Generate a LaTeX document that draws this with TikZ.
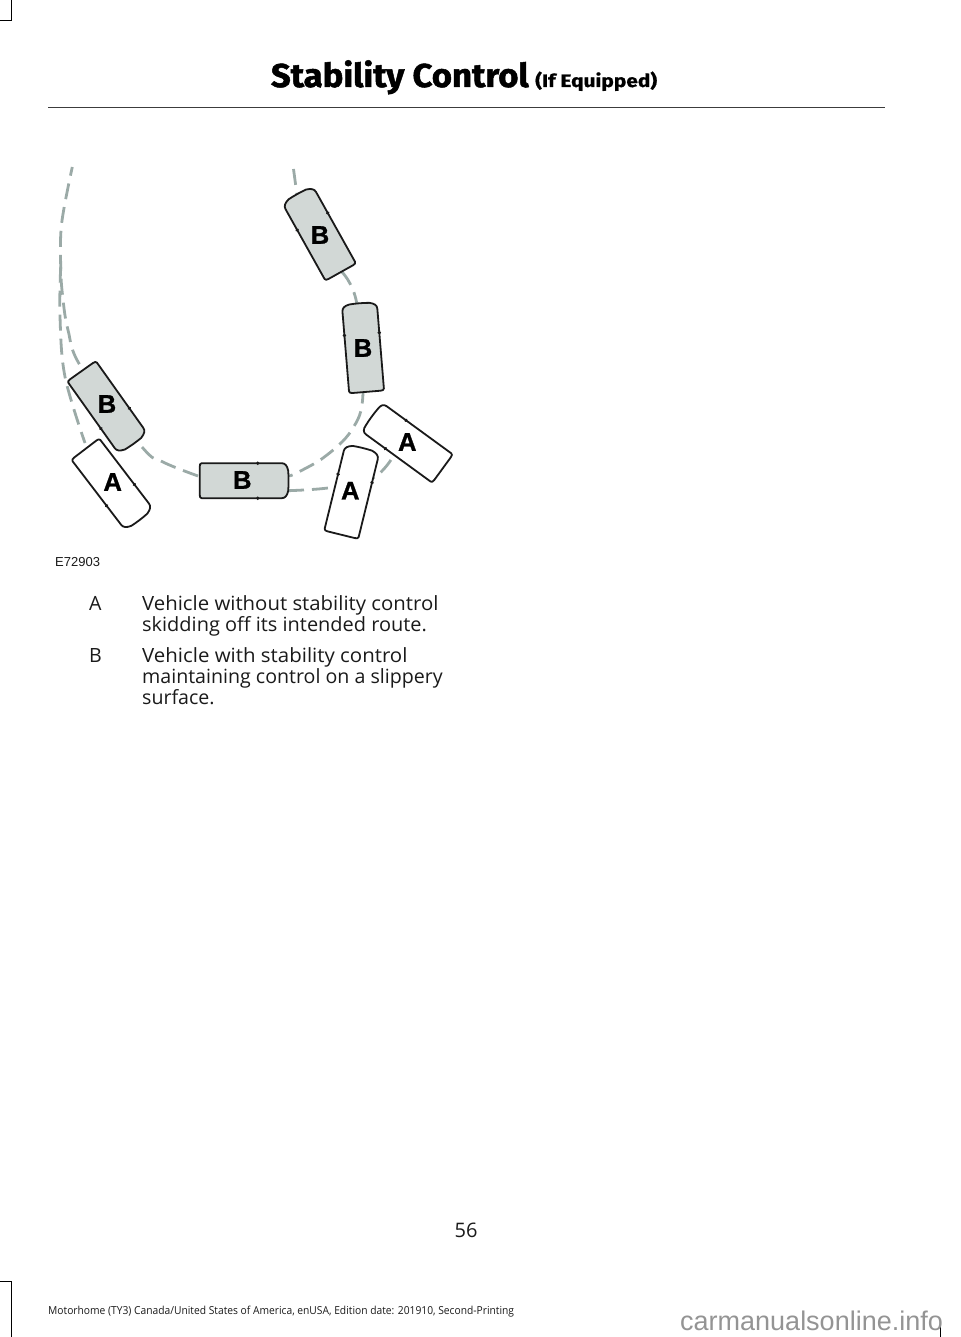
\documentclass[tikz,border=0pt]{standalone}
\usepackage{fontspec}
\setmainfont{Open Sans}
\newfontfamily\labelfont[BoldFeatures={FakeBold=1.2}]{Liberation Sans}
\newfontfamily\titlefont[BoldFeatures={FakeBold=1.5,FakeStretch=1.05}]{Fira Sans}
\newfontfamily\smalltitlefont[BoldFeatures={FakeBold=1,FakeStretch=1.16}]{Fira Sans}
\newfontfamily\footerfont[FakeStretch=0.933]{Open Sans}
\newcommand{\stretched}[2]{\addfontfeature{FakeStretch=#1}#2}
\usetikzlibrary{calc}
\pgfdeclarelayer{routes}
\pgfsetlayers{routes,main}
\definecolor{routegrey}{HTML}{9BAAA7}
\definecolor{carfill}{HTML}{D2D8D6}
\definecolor{ink}{HTML}{1A1A1A}
\tikzset{
  route/.style={draw=routegrey,line width=2.8pt,dash pattern=on 16pt off 8pt},
  carbody/.style={draw=ink,line width=1.8pt,line join=round},
  carlabel/.style={font=\labelfont\bfseries\fontsize{25.5}{26}\selectfont,text=black,inner sep=0pt},
  body/.style={anchor=base west,inner sep=0pt,text=ink,font=\fontsize{19.6}{21}\selectfont},
  cropmark/.style={draw=black,line width=1pt},
}
% name, x, y, angle, fill, label, label x, label y, end bulge
\newcommand{\car}[9]{%
  \begin{scope}[shift={(#2,#3)},rotate=#4]
    \path[carbody,fill=#5]
      (-42,-17.5) -- (38,-17.5)
      .. controls (41.5,-17.5) and (43.5,-15) .. (43.5+#9,-10)
      .. controls (44+#9,-4) and (44+#9,4) .. (43.5+#9,10)
      .. controls (43.5,15) and (41.5,17.5) .. (38,17.5)
      -- (-42,17.5)
      .. controls (-43.5,17.5) and (-44,16) .. (-44,14)
      -- (-44,-14)
      .. controls (-44,-16) and (-43.5,-17.5) .. (-42,-17.5) -- cycle;
    \fill[ink] (14,-17.5) circle (1.9pt) (14,17.5) circle (1.9pt);
    \node[inner sep=0pt,minimum width=85pt,minimum height=35pt] (#1) at (0,0) {};
  \end{scope}
  \node[carlabel] (#1label) at (#7,#8) {#6};
}
\begin{document}
\begin{tikzpicture}[x=1pt,y=-1pt]
\useasboundingbox (0,0) rectangle (960,1337);

% crop marks
\coordinate (tl1) at (0,20.5); \coordinate (tl2) at (11,20.5); \coordinate (tl3) at (11,0);
\draw[cropmark] (tl1) -- (tl2) -- (tl3);
\coordinate (bl1) at (0,1281.5); \coordinate (bl2) at (11,1281.5); \coordinate (bl3) at (11,1337);
\draw[cropmark] (bl1) -- (bl2) -- (bl3);
\coordinate (br1) at (940.5,1320); \coordinate (br2) at (940.5,1337);
\draw[cropmark] (br1) -- (br2);

% header
\node[anchor=base east,inner sep=0pt,font=\titlefont\bfseries\fontsize{33}{33}\selectfont] (title) at (529,87) {Stability Control};
\node[anchor=base west,inner sep=0pt,font=\smalltitlefont\bfseries\fontsize{18}{18}\selectfont] (equipped) at (535,87) {(If Equipped)};
\coordinate (rule1) at (48,107.5); \coordinate (rule2) at (885,107.5);
\draw[draw=ink!85,line width=1.8pt] (rule1) -- (rule2);

% cars
\car{bfour}{319.3}{233.7}{119.2}{carfill}{B}{320}{235}{1.5}
\car{bthree}{363}{348}{94.7}{carfill}{B}{363}{348}{1}
\car{bone}{107}{407}{-54.6}{carfill}{B}{107}{404}{1.5}
\car{btwo}{243.7}{480.7}{0}{carfill}{B}{242.3}{480}{1}
\car{aone}{112}{484}{-52.6}{white}{A}{112.7}{482}{1.5}
\car{atwo}{351.7}{492}{76.2}{white}{A}{350.3}{490.7}{1.5}
\car{athree}{407}{442.7}{143.9}{white}{A}{407.3}{442}{0}

% routes
\coordinate (r1) at (293.5,169);
\coordinate (r2) at (297,195);
\coordinate (r3) at (341.7,271.7);
\coordinate (r4) at (356.7,303);
\coordinate (r5) at (363,393);
\coordinate (r6) at (351.7,430);
\coordinate (r7) at (323,458);
\coordinate (r8) at (290,476);
\coordinate (r9) at (198,476);
\coordinate (r10) at (163,462);
\coordinate (r11) at (141.7,446.7);
\coordinate (r12) at (81.7,368);
\coordinate (r13) at (68,330);
\coordinate (r14) at (62.7,296.7);
\coordinate (r15) at (60.7,266.7);
\coordinate (r16) at (61.7,223);
\coordinate (r17) at (72.3,167);
\coordinate (s1) at (60,316.7);
\coordinate (s2) at (65,376.7);
\coordinate (s3) at (85,443);
\coordinate (t1) at (288,490.7);
\coordinate (t2) at (330,487.7);
\coordinate (t3) at (373,478);
\coordinate (t4) at (393,456.7);
\begin{pgfonlayer}{routes}
\draw[route] (r1) -- (r2);
\draw[route] plot[smooth,tension=0.6] coordinates {(r3) (r4) (r5) (r6) (r7) (r8)};
\draw[route] (r8) -- (r9);
\draw[route] plot[smooth,tension=0.6] coordinates {(r9) (r10) (r11) (r12) (r13) (r14) (r15) (r16) (r17)};
\draw[route] plot[smooth,tension=0.6] coordinates {(r15) (s1) (s2) (s3)};
\draw[route] plot[smooth,tension=0.6] coordinates {(t1) (t2) (t3) (t4)};
\end{pgfonlayer}

% artwork number
\node[anchor=base west,inner sep=0pt,text=ink,font=\labelfont\fontsize{13}{14}\selectfont] (artno) at (55,566) {E72903};

% legend
\node[body] (keya) at (89,610.8) {A};
\node[body] (texta1) at (142,610.8) {\stretched{1.039}{Vehicle without stability control}};
\node[body] (texta2) at (142,631.8) {\stretched{1.018}{skidding off its intended route.}};
\node[body] (keyb) at (89,662.8) {B};
\node[body] (textb1) at (142,662.8) {\stretched{1.043}{Vehicle with stability control}};
\node[body] (textb2) at (142,683.8) {maintaining control on a slippery};
\node[body] (textb3) at (142,704.8) {surface.};

% footer
\node[anchor=base,inner sep=0pt,text=ink,font=\fontsize{20}{20}\selectfont] (pageno) at (466,1237) {56};
\node[anchor=base west,inner sep=0pt,text=ink,font=\footerfont\fontsize{11}{12}\selectfont] (footer) at (48,1314) {Motorhome (TY3) Canada/United States of America, enUSA, Edition date: 201910, Second-Printing};
\node[anchor=base west,inner sep=0pt,text=black!42,font=\labelfont\fontsize{27}{27}\selectfont] (watermark) at (680,1330) {carmanualsonline.info};
\end{tikzpicture}
\end{document}
